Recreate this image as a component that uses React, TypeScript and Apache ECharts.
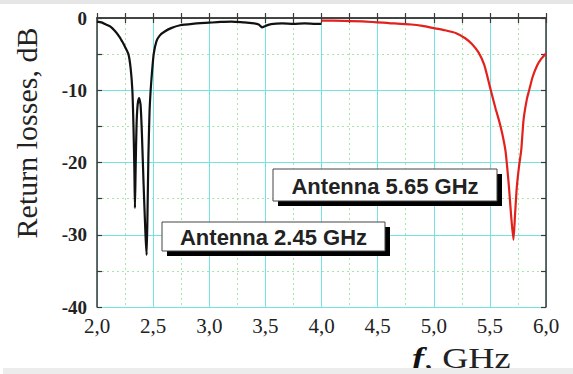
import React, { useEffect, useRef } from "react";
import * as echarts from "echarts";

const blackFreq = [2.0, 2.04, 2.08, 2.12, 2.16, 2.2, 2.23, 2.25, 2.28, 2.3, 2.315, 2.325, 2.333, 2.338, 2.344, 2.352, 2.362, 2.375, 2.388, 2.4, 2.415, 2.432, 2.442, 2.45, 2.458, 2.468, 2.478, 2.49, 2.505, 2.53, 2.56, 2.6, 2.66, 2.74, 2.85, 3.0, 3.1, 3.2, 3.3, 3.38, 3.44, 3.47, 3.5, 3.55, 3.65, 3.75, 3.85, 3.95, 4.0];
const blackLoss = [-0.5, -0.6, -0.9, -1.2, -1.8, -2.6, -3.4, -4.0, -5.0, -7.0, -10, -15, -21, -26.3, -21, -15, -12, -11.1, -12, -16, -23, -30, -32.8, -27, -19, -13, -10, -7.5, -5, -3.2, -2.4, -1.9, -1.4, -1.0, -0.8, -0.65, -0.55, -0.5, -0.6, -0.7, -0.9, -1.3, -1.1, -0.85, -0.75, -0.8, -0.75, -0.8, -0.8];

const redFreq = [4.0, 4.2, 4.4, 4.6, 4.8, 4.9, 5.0, 5.1, 5.2, 5.28, 5.34, 5.4, 5.45, 5.5, 5.55, 5.58, 5.61, 5.64, 5.67, 5.69, 5.71, 5.725, 5.74, 5.76, 5.78, 5.8, 5.83, 5.85, 5.88, 5.92, 5.96, 6.0];
const redLoss = [-0.35, -0.4, -0.5, -0.7, -0.9, -1.1, -1.4, -1.7, -2.1, -2.8, -3.6, -4.8, -6.5, -9.5, -12.5, -14.1, -16, -18.5, -23.4, -27.5, -30.7, -27, -23.4, -20.5, -18.2, -14.1, -11.2, -10, -8.2, -6.6, -5.6, -4.9];

const xTicks = [2.0, 6.0, 0.5];
const yTicks = [-40, 0, 10];
const label1 = "Antenna 5.65 GHz";
const label2 = "Antenna 2.45 GHz";
const yName = "Return losses, dB";

const CYAN = "#72e3e3";
const GREEN = "#a6e6a6";
const AXIS = "#3a3a3a";
const SERIF = "Liberation Serif";

export default function App() {
  const ref = useRef<HTMLDivElement>(null);
  useEffect(() => {
    if (!ref.current) return;
    const chart = echarts.init(ref.current, null, { renderer: "svg" });
    const common = {
      axisLine: { show: true, lineStyle: { color: AXIS, width: 1.5 } },
      axisTick: { show: true, inside: true, length: 5, lineStyle: { color: AXIS, width: 1.2 } },
      minorTick: { show: true, splitNumber: 2, length: 5, lineStyle: { color: AXIS, width: 1.2 } },
    };
    const box = (x: number, y: number, w: number, h: number, text: string) => [
      { type: "rect", shape: { x: x + 5, y: y + 5, width: w, height: h }, style: { fill: "#000" }, z: 100 },
      { type: "rect", shape: { x, y, width: w, height: h }, style: { fill: "#fff", stroke: "#444", lineWidth: 1 }, z: 101 },
      {
        type: "text", x: x + w / 2, y: y + h / 2 + 1, z: 102,
        style: { text, fill: "#222", font: "bold 22px 'Liberation Sans', Arial, sans-serif", align: "center", verticalAlign: "middle" },
      },
    ];
    chart.setOption({
      animation: false,
      backgroundColor: "#ffffff",
      grid: { left: 97, right: 27, top: 18, bottom: 67 },
      xAxis: [
        {
          type: "value", min: xTicks[0], max: xTicks[1], interval: xTicks[2], position: "bottom",
          ...common,
          axisLabel: {
            margin: 8, color: "#222", fontSize: 21, fontFamily: SERIF,
            formatter: (v: number) => v.toFixed(1).replace(".", ","),
          },
          splitLine: { show: true, lineStyle: { color: CYAN, width: 1 } },
          minorSplitLine: { show: true, lineStyle: { color: GREEN, width: 1, type: [2, 3] } },
        },
        {
          type: "value", min: xTicks[0], max: xTicks[1], interval: xTicks[2], position: "top",
          ...common, axisLabel: { show: false }, splitLine: { show: false },
        },
      ],
      yAxis: [
        {
          type: "value", min: yTicks[0], max: yTicks[1], interval: yTicks[2], position: "left",
          ...common,
          axisLabel: {
            margin: 10, color: "#222", fontSize: 19, fontWeight: "bold", fontFamily: SERIF,
          },
          splitLine: { show: true, lineStyle: { color: CYAN, width: 1 } },
          minorSplitLine: { show: true, lineStyle: { color: GREEN, width: 1, type: [2, 3] } },
        },
        {
          type: "value", min: yTicks[0], max: yTicks[1], interval: yTicks[2], position: "right",
          ...common, axisLabel: { show: false }, splitLine: { show: false },
        },
      ],
      series: [
        {
          type: "line", xAxisIndex: 0, yAxisIndex: 0, showSymbol: false, smooth: 0.2,
          data: blackFreq.map((f, i) => [f, blackLoss[i]]),
          lineStyle: { color: "#111", width: 2.2 }, z: 5,
        },
        {
          type: "line", xAxisIndex: 0, yAxisIndex: 0, showSymbol: false, smooth: 0.2,
          data: redFreq.map((f, i) => [f, redLoss[i]]),
          lineStyle: { color: "#e3211c", width: 2.2 }, z: 5,
        },
      ],
      graphic: [
        { type: "rect", shape: { x: 0, y: 0, width: 573, height: 4 }, style: { fill: "#e6e6e6" }, z: 50 },
        { type: "rect", shape: { x: 3, y: 368, width: 570, height: 6 }, style: { fill: "#ececec" }, z: 50 },
        {
          type: "text", x: 26, y: 133, rotation: Math.PI / 2, z: 60,
          style: { text: yName, fill: "#222", font: "30px 'Liberation Serif', 'Times New Roman', serif", align: "center", verticalAlign: "middle" },
        },
        {
          type: "text", x: 412, y: 373, z: 40, scaleX: 1.25,
          style: {
            text: "{f|f}{n|, GHz}", verticalAlign: "bottom", align: "left",
            rich: {
              f: { font: "italic bold 29px 'Liberation Serif', 'Times New Roman', serif", fill: "#111" },
              n: { font: "29px 'Liberation Serif', 'Times New Roman', serif", fill: "#222" },
            },
          },
        },
        ...box(273, 169, 224, 32, label1),
        ...box(162, 222, 223, 29, label2),
      ],
    });
    return () => chart.dispose();
  }, []);
  return <div ref={ref} style={{ position: "absolute", left: 0, top: 0, width: 573, height: 374 }} />;
}
